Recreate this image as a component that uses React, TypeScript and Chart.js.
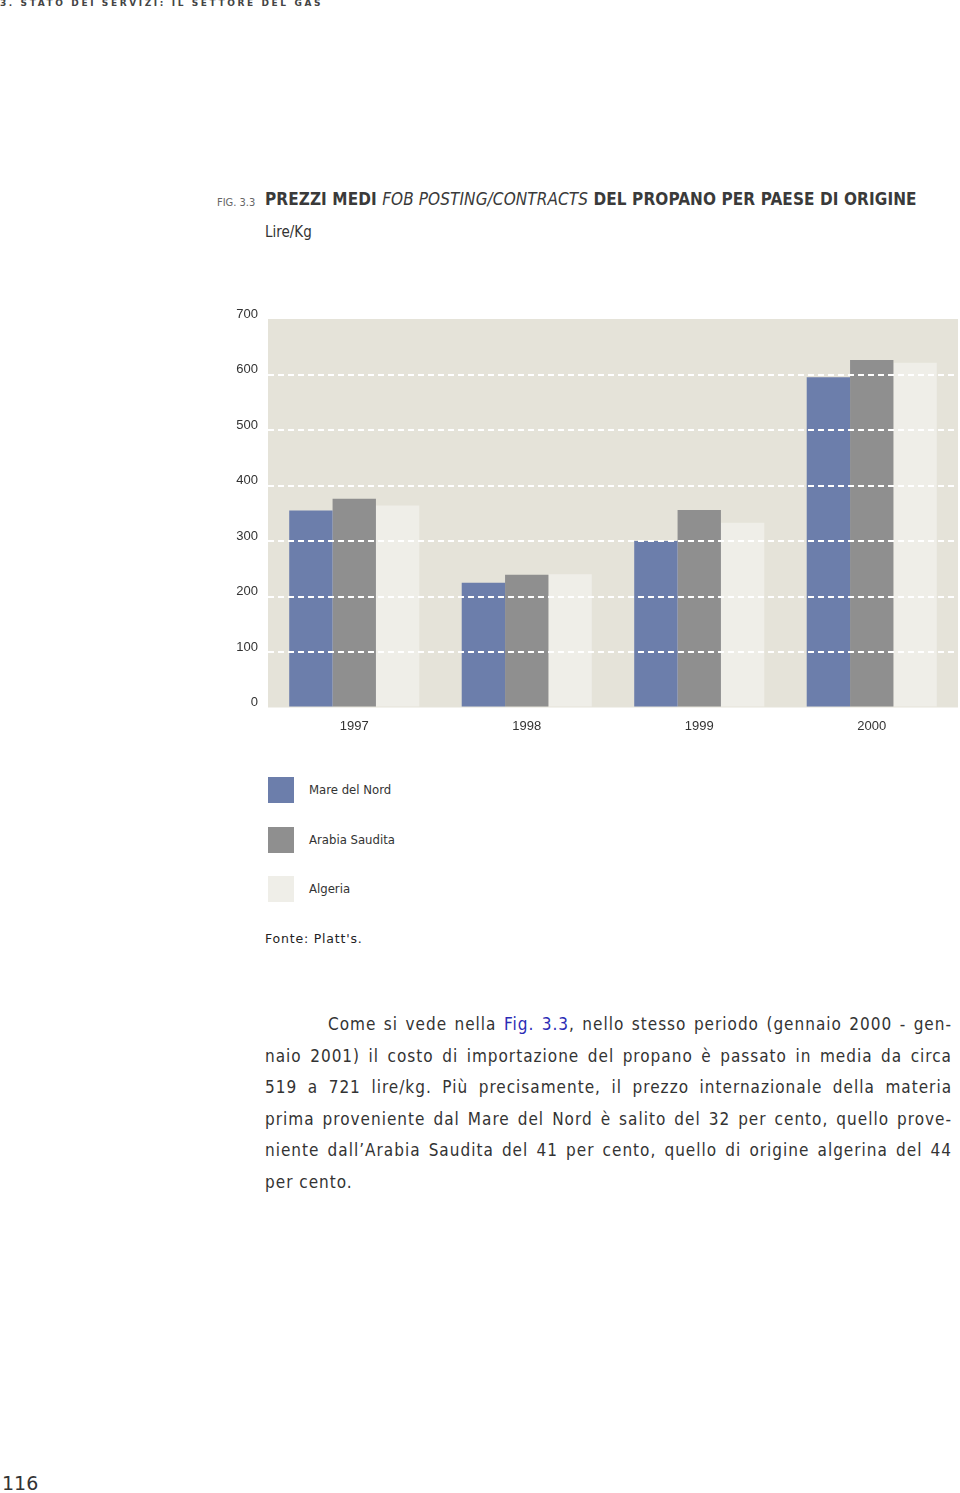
import React, { useEffect, useRef } from "react";
import { Chart, registerables } from "chart.js";

Chart.register(...registerables);

const categories = ["1997", "1998", "1999", "2000"];
const mareDelNord = [355, 225, 300, 595];
const arabiaSaudita = [376, 239, 356, 626];
const algeria = [364, 240, 333, 621];
const seriesNames = ["Mare del Nord", "Arabia Saudita", "Algeria"];
const seriesColors = ["#6c7eab", "#8f8f8f", "#efeee8"];
const yTicks = [0, 100, 200, 300, 400, 500, 600, 700];

const condensed = '"DejaVu Sans Condensed", "Liberation Sans Narrow", "DejaVu Sans", sans-serif';

const paragraphLines = [
  [
    { t: "Come si vede nella " },
    { t: "Fig. 3.3", blue: true },
    { t: ", nello stesso periodo (gennaio 2000 - gen-" },
  ],
  [{ t: "naio 2001) il costo di importazione del propano è passato in media da circa" }],
  [{ t: "519 a 721 lire/kg. Più precisamente, il prezzo internazionale della materia" }],
  [{ t: "prima proveniente dal Mare del Nord è salito del 32 per cento, quello prove-" }],
  [{ t: "niente dall’Arabia Saudita del 41 per cento, quello di origine algerina del 44" }],
  [{ t: "per cento." }],
];

const plotBg = {
  id: "plotBg",
  beforeDraw(chart: any) {
    const { ctx, chartArea } = chart;
    const { left, top, right, bottom } = chartArea;
    ctx.save();
    ctx.fillStyle = "#e5e3d9";
    ctx.fillRect(left, top, right - left, bottom - top);
    ctx.restore();
  },
};

function BarChart() {
  const ref = useRef<HTMLCanvasElement | null>(null);
  useEffect(() => {
    if (!ref.current) return;
    const seriesData = [mareDelNord, arabiaSaudita, algeria];
    const chart = new Chart(ref.current, {
      type: "bar",
      data: {
        labels: categories,
        datasets: seriesNames.map((name, i) => ({
          label: name,
          data: seriesData[i],
          backgroundColor: seriesColors[i],
          borderWidth: 0,
          categoryPercentage: 0.754,
          barPercentage: 1,
        })),
      },
      options: {
        responsive: false,
        animation: false,
        layout: { padding: { top: 19, right: 2, left: 0, bottom: 0 } },
        plugins: { legend: { display: false }, tooltip: { enabled: false } },
        scales: {
          x: {
            grid: { display: false },
            border: { display: false },
            ticks: {
              color: "#333333",
              font: { family: '"Liberation Sans", Arial, sans-serif', size: 13 },
              padding: 3,
            },
            afterFit(s: any) {
              s.height = 32.5;
            },
          },
          y: {
            min: 0,
            max: 700,
            afterBuildTicks(s: any) {
              s.ticks = yTicks.map((v) => ({ value: v }));
            },
            grid: {
              z: 1,
              drawTicks: false,
              lineWidth: 2,
              color: (c: any) =>
                c.tick && (c.tick.value === 0 || c.tick.value === 700) ? "rgba(0,0,0,0)" : "#ffffff",
            },
            border: { display: false, dash: [6, 4] },
            ticks: {
              color: "#333333",
              font: { family: '"Liberation Sans", Arial, sans-serif', size: 13 },
              padding: 10,
              labelOffset: -5,
            },
            afterFit(s: any) {
              s.width = 268;
            },
          },
        },
      },
      plugins: [plotBg],
    } as any);
    return () => chart.destroy();
  }, []);
  return <canvas ref={ref} width={960} height={440} style={{ display: "block" }} />;
}

export default function App() {
  const abs = (o: React.CSSProperties): React.CSSProperties => ({ position: "absolute", ...o });
  return (
    <div style={abs({ left: 0, top: 0, width: 960, height: 1493, background: "#ffffff", color: "#333" })}>
      <div
        style={abs({
          left: 0,
          top: -2,
          fontFamily: '"DejaVu Sans", sans-serif',
          fontSize: 9,
          fontWeight: 700,
          letterSpacing: 2.6,
          color: "#444",
          whiteSpace: "nowrap",
        })}
      >
        3. STATO DEI SERVIZI: IL SETTORE DEL GAS
      </div>

      <div style={abs({ left: 217, top: 196, fontFamily: condensed, fontSize: 11, color: "#666", whiteSpace: "nowrap" })}>
        FIG. 3.3
      </div>
      <div
        style={abs({
          left: 265,
          top: 189,
          fontFamily: condensed,
          fontSize: 17,
          fontWeight: 600,
          letterSpacing: 0.1,
          color: "#3a3a3a",
          whiteSpace: "nowrap",
        })}
      >
        PREZZI MEDI <span style={{ fontStyle: "italic", fontWeight: 400 }}>FOB POSTING/CONTRACTS</span> DEL PROPANO PER PAESE DI ORIGINE
      </div>
      <div style={abs({ left: 265, top: 223, fontFamily: condensed, fontSize: 15, color: "#333", whiteSpace: "nowrap" })}>
        Lire/Kg
      </div>

      <div style={abs({ left: 0, top: 300, width: 960, height: 440 })}>
        <BarChart />
      </div>

      {seriesNames.map((name, i) => (
        <React.Fragment key={name}>
          <div style={abs({ left: 268, top: 777 + i * 49.7, width: 26, height: 26, background: seriesColors[i] })} />
          <div
            style={abs({
              left: 309,
              top: 781 + i * 49.7,
              fontFamily: condensed,
              fontSize: 13,
              lineHeight: "18px",
              color: "#333",
              whiteSpace: "nowrap",
            })}
          >
            {name}
          </div>
        </React.Fragment>
      ))}

      <div
        style={abs({
          left: 265,
          top: 930,
          fontFamily: '"DejaVu Sans", sans-serif',
          fontSize: 12.5,
          letterSpacing: 0.8,
          lineHeight: "18px",
          color: "#222",
          whiteSpace: "nowrap",
        })}
      >
        Fonte: Platt's.
      </div>

      <div
        style={abs({
          left: 265,
          top: 1009,
          width: 687,
          fontFamily: condensed,
          fontSize: 17,
          letterSpacing: 1,
          lineHeight: "31.6px",
          color: "#333",
        })}
      >
        {paragraphLines.map((line, i) => (
          <div
            key={i}
            style={{
              textAlign: "justify",
              textAlignLast: i === paragraphLines.length - 1 ? "left" : "justify",
              textIndent: i === 0 ? 63 : 0,
              whiteSpace: "nowrap",
            }}
          >
            {line.map((seg, j) => (
              <span key={j} style={seg.blue ? { color: "#2b2bb5" } : undefined}>
                {seg.t}
              </span>
            ))}
          </div>
        ))}
      </div>

      <div style={abs({ left: 2, top: 1472, fontFamily: '"DejaVu Sans", sans-serif', fontSize: 19, color: "#333" })}>
        116
      </div>
    </div>
  );
}
